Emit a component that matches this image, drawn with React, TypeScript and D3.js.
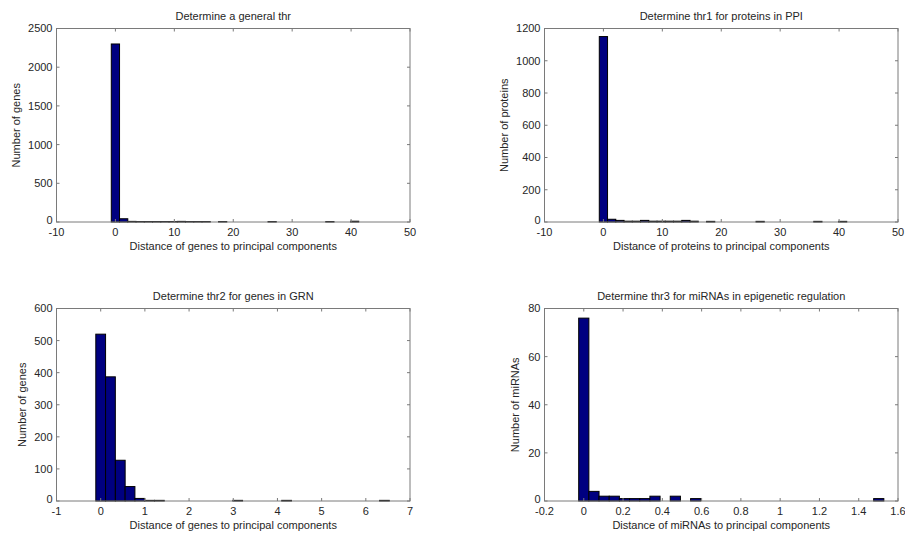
import React from "react";
import * as d3 from "d3";

// ---- Data ----
const centersGeneral = [0, 1.4, 2.8, 4.2, 5.6, 7, 8.4, 9.8, 11.2, 12.6, 14, 15.4, 16.8, 18.2, 19.6, 21, 22.4, 23.8, 25.2, 26.6, 28, 29.4, 30.8, 32.2, 33.6, 35, 36.4, 37.8, 39.2, 40.6];
const countsGeneral = [2300, 42, 8, 6, 6, 6, 6, 6, 8, 6, 6, 6, 0, 6, 0, 0, 0, 0, 0, 6, 0, 0, 0, 0, 0, 0, 6, 0, 0, 10];

const centersPPI = [0, 1.4, 2.8, 4.2, 5.6, 7, 8.4, 9.8, 11.2, 12.6, 14, 15.4, 16.8, 18.2, 19.6, 21, 22.4, 23.8, 25.2, 26.6, 28, 29.4, 30.8, 32.2, 33.6, 35, 36.4, 37.8, 39.2, 40.6];
const countsPPI = [1150, 17, 10, 5, 5, 10, 5, 5, 5, 5, 10, 5, 0, 4, 0, 0, 0, 0, 0, 4, 0, 0, 0, 0, 0, 0, 4, 0, 0, 4];

const centersGRN = [0, 0.221, 0.443, 0.664, 0.886, 1.107, 1.328, 1.55, 1.771, 1.993, 2.214, 2.435, 2.657, 2.878, 3.1, 3.321, 3.542, 3.764, 3.985, 4.207, 4.428, 4.649, 4.871, 5.092, 5.314, 5.535, 5.756, 5.978, 6.199, 6.421];
const countsGRN = [520, 387, 127, 45, 8, 2, 2, 0, 0, 0, 0, 0, 0, 0, 2, 0, 0, 0, 0, 2, 0, 0, 0, 0, 0, 0, 0, 0, 0, 2];

const centersMiRNA = [0, 0.0518, 0.1036, 0.1554, 0.2072, 0.259, 0.3108, 0.3626, 0.4144, 0.4662, 0.518, 0.5698, 0.6216, 0.6734, 0.7252, 0.777, 0.8288, 0.8806, 0.9324, 0.9842, 1.036, 1.0878, 1.1396, 1.1914, 1.2432, 1.295, 1.3468, 1.3986, 1.4504, 1.502];
const countsMiRNA = [76, 4, 2, 2, 1, 1, 1, 2, 0, 2, 0, 1, 0, 0, 0, 0, 0, 0, 0, 0, 0, 0, 0, 0, 0, 0, 0, 0, 0, 1];

const xTicksA = [-10, 0, 10, 20, 30, 40, 50];
const xTicksGRN = [-1, 0, 1, 2, 3, 4, 5, 6, 7];
const xTicksMiRNA = [-0.2, 0, 0.2, 0.4, 0.6, 0.8, 1, 1.2, 1.4, 1.6];
const yTicksGeneral = [0, 500, 1000, 1500, 2000, 2500];
const yTicksPPI = [0, 200, 400, 600, 800, 1000, 1200];
const yTicksGRN = [0, 100, 200, 300, 400, 500, 600];
const yTicksMiRNA = [0, 20, 40, 60, 80];

const titles = [
  "Determine a general thr",
  "Determine thr1 for proteins in PPI",
  "Determine thr2 for genes in GRN",
  "Determine thr3 for miRNAs in epigenetic regulation",
];
const xLabels = [
  "Distance of genes to principal components",
  "Distance of proteins to principal components",
  "Distance of genes to principal components",
  "Distance of miRNAs to principal components",
];
const yLabels = ["Number of genes", "Number of proteins", "Number of genes", "Number of miRNAs"];

const FONT = "'Liberation Sans', Arial, sans-serif";
const FS = 11;
const AXIS = "#7a7a7a";
const TEXT = "#262626";
const BAR = "#000080";

type PanelProps = {
  left: number; right: number; top: number; bottom: number;
  centers: number[]; counts: number[];
  xTicks: number[]; yTicks: number[];
  title: string; xLabel: string; yLabel: string; yLabelX: number;
};

function fmt(v: number) {
  return String(Math.round(v * 1000) / 1000);
}

function Panel(p: PanelProps) {
  const x = d3.scaleLinear().domain([p.xTicks[0], p.xTicks[p.xTicks.length - 1]]).range([p.left, p.right]);
  const y = d3.scaleLinear().domain([p.yTicks[0], p.yTicks[p.yTicks.length - 1]]).range([p.bottom, p.top]);
  const w = p.centers[1] - p.centers[0];
  const tl = 3;
  return (
    <g>
      {p.counts.map((c, i) => {
        if (c <= 0) return null;
        const x0 = x(p.centers[i] - w / 2);
        const x1 = x(p.centers[i] + w / 2);
        return (
          <rect key={i} x={x0} y={y(c)} width={x1 - x0} height={y(0) - y(c)} fill={BAR} stroke="#000" strokeWidth={1} />
        );
      })}
      <rect x={p.left} y={p.top} width={p.right - p.left} height={p.bottom - p.top} fill="none" stroke={AXIS} strokeWidth={1} />
      {p.xTicks.map((t, i) => (
        <g key={"xt" + i}>
          <line x1={x(t)} x2={x(t)} y1={p.bottom} y2={p.bottom - tl} stroke={AXIS} />
          <line x1={x(t)} x2={x(t)} y1={p.top} y2={p.top + tl} stroke={AXIS} />
          <text x={x(t)} y={p.bottom + 14} textAnchor="middle" fontFamily={FONT} fontSize={FS} fill={TEXT}>{fmt(t)}</text>
        </g>
      ))}
      {p.yTicks.map((t, i) => (
        <g key={"yt" + i}>
          <line x1={p.left} x2={p.left + tl} y1={y(t)} y2={y(t)} stroke={AXIS} />
          <line x1={p.right} x2={p.right - tl} y1={y(t)} y2={y(t)} stroke={AXIS} />
          <text x={p.left - 4} y={y(t)} dy={t === 0 ? "0.2em" : "0.36em"} textAnchor="end" fontFamily={FONT} fontSize={FS} fill={TEXT}>{fmt(t)}</text>
        </g>
      ))}
      <text x={(p.left + p.right) / 2} y={p.top - 9} textAnchor="middle" fontFamily={FONT} fontSize={FS} fill={TEXT}>{p.title}</text>
      <text x={(p.left + p.right) / 2} y={p.bottom + 28} textAnchor="middle" fontFamily={FONT} fontSize={FS} fill={TEXT}>{p.xLabel}</text>
      <text transform={`translate(${p.yLabelX},${(p.top + p.bottom) / 2}) rotate(-90)`} dy="0.36em" textAnchor="middle" fontFamily={FONT} fontSize={FS} fill={TEXT}>{p.yLabel}</text>
    </g>
  );
}

export default function App() {
  return (
    <svg width={905} height={536} style={{ position: "absolute", left: 0, top: 0, background: "#fff" }}>
      <Panel left={56.5} right={410} top={28.5} bottom={222} centers={centersGeneral} counts={countsGeneral} xTicks={xTicksA} yTicks={yTicksGeneral} title={titles[0]} xLabel={xLabels[0]} yLabel={yLabels[0]} yLabelX={16} />
      <Panel left={544.5} right={898} top={28.5} bottom={222} centers={centersPPI} counts={countsPPI} xTicks={xTicksA} yTicks={yTicksPPI} title={titles[1]} xLabel={xLabels[1]} yLabel={yLabels[1]} yLabelX={504} />
      <Panel left={56.5} right={410} top={308.5} bottom={501} centers={centersGRN} counts={countsGRN} xTicks={xTicksGRN} yTicks={yTicksGRN} title={titles[2]} xLabel={xLabels[2]} yLabel={yLabels[2]} yLabelX={22} />
      <Panel left={544.5} right={898} top={308.5} bottom={501} centers={centersMiRNA} counts={countsMiRNA} xTicks={xTicksMiRNA} yTicks={yTicksMiRNA} title={titles[3]} xLabel={xLabels[3]} yLabel={yLabels[3]} yLabelX={515} />
    </svg>
  );
}
